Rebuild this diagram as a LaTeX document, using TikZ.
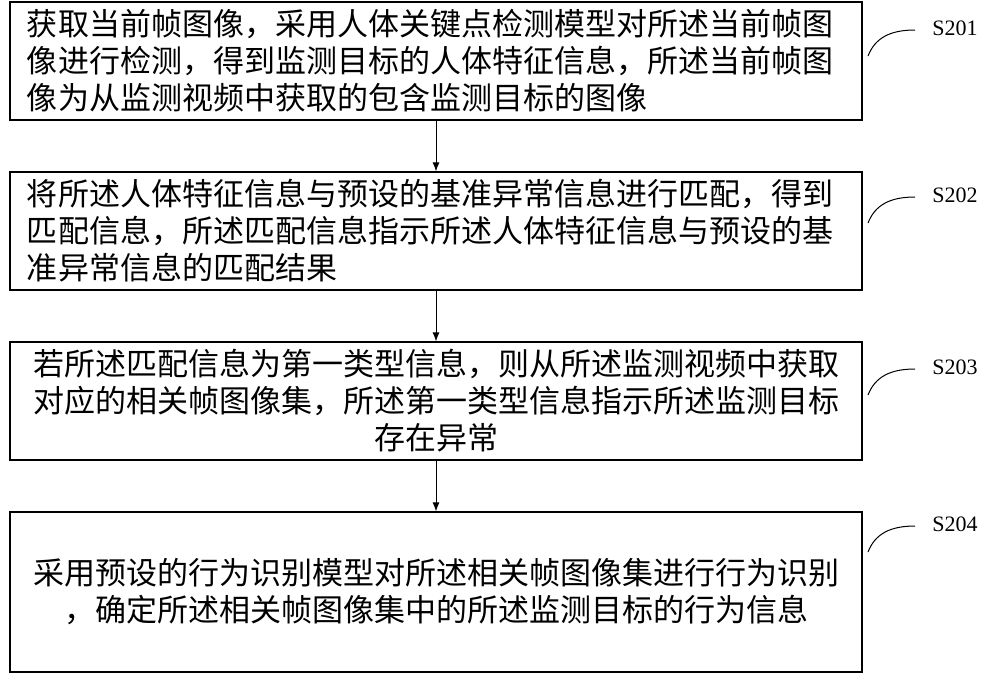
\documentclass[tikz,border=0pt]{standalone}
\usepackage{fontspec}
\setmainfont{Liberation Serif}
\newfontfamily\cjk{Noto Sans CJK SC}
\usetikzlibrary{arrows.meta}
\begin{document}
\begin{tikzpicture}[x=1pt,y=-1pt,
 box/.style={draw,line width=1.2pt,minimum width=852pt,inner sep=0pt,font=\cjk\fontsize{31}{37}\selectfont},
 arr/.style={-{Latex[length=9pt,width=7pt]},line width=1pt},
 lab/.style={font=\fontsize{22}{24}\selectfont}]
\useasboundingbox (0,0) rectangle (1000,678);
\node[box,minimum height=118pt,align=left,text width=818pt] (b1) at (436,61) {获取当前帧图像，采用人体关键点检测模型对所述当前帧图\\像进行检测，得到监测目标的人体特征信息，所述当前帧图\\像为从监测视频中获取的包含监测目标的图像};
\node[box,minimum height=118pt,align=left,text width=818pt] (b2) at (436,231) {将所述人体特征信息与预设的基准异常信息进行匹配，得到\\匹配信息，所述匹配信息指示所述人体特征信息与预设的基\\准异常信息的匹配结果};
\node[box,minimum height=118pt,align=center,text width=818pt] (b3) at (436,401) {若所述匹配信息为第一类型信息，则从所述监测视频中获取\\对应的相关帧图像集，所述第一类型信息指示所述监测目标\\存在异常};
\node[box,minimum height=160pt,align=center,text width=818pt] (b4) at (436,592) {采用预设的行为识别模型对所述相关帧图像集进行行为识别\\，确定所述相关帧图像集中的所述监测目标的行为信息};
\draw[arr] (b1) -- (b2);
\draw[arr] (b2) -- (b3);
\draw[arr] (b3) -- (b4);
\foreach \n/\y/\t in {l1/28/S201,l2/195/S202,l3/367/S203,l4/524/S204}{
 \node[lab] (\n) at (955,\y) {\t};
 \coordinate (\n a) at (868,\y+28);
 \coordinate (\n b) at (915,\y+2);
 \draw[line width=1pt] (\n a) .. controls (875,\y+10) and (890,\y+2) .. (\n b);
}
\end{tikzpicture}
\end{document}
